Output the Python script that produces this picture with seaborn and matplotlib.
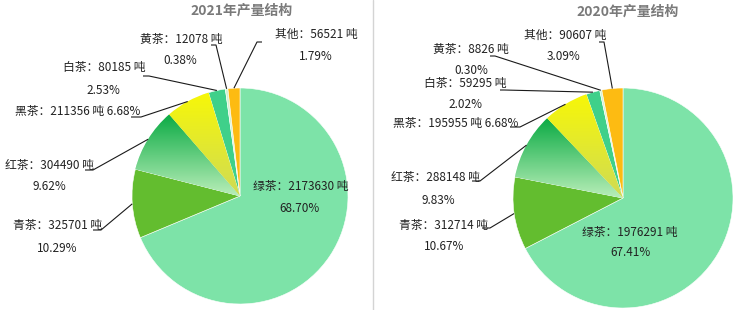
import numpy as np
import matplotlib
matplotlib.use('Agg')
import matplotlib.pyplot as plt
import seaborn as sns

# ---------------- data ----------------
categories = ['绿茶', '青茶', '红茶', '黑茶', '白茶', '黄茶', '其他']
values_2021 = [2173630, 325701, 304490, 211356, 80185, 12078, 56521]
pct_2021 = ['68.70%', '10.29%', '9.62%', '6.68%', '2.53%', '0.38%', '1.79%']
values_2020 = [1976291, 312714, 288148, 195955, 59295, 8826, 90607]
pct_2020 = ['67.41%', '10.67%', '9.83%', '6.68%', '2.02%', '0.30%', '3.09%']
titles = ['2021年产量结构', '2020年产量结构']
unit = '吨'

# ---------------- style ----------------
sns.set_theme(style='white')
plt.rcParams['font.family'] = ['Noto Sans CJK SC', 'DejaVu Sans']

colors = ['#7de3a8', '#63bd2f', '#3cc46c', '#ecef2a', '#3fd08a', '#d2f2d2', '#fdbb12']
gradients = {2: ['#0cab45', '#b8eeb8'], 3: ['#f7f708', '#cfdb55']}

W, H = 737, 310
fig = plt.figure(figsize=(W / 100, H / 100), dpi=100)
ax = fig.add_axes([0, 0, 1, 1])


def Y(y):
    return H - y


# layout in pixel coordinates (x, y from top)
layouts = [
    dict(center=(240, 196), r=108, title=(242, 11),
         labels={0: [(301, 186), (300, 208)], 1: [(58, 226), (57, 248)],
                 2: [(49, 165), (49, 187)], 3: [(78, 112)],
                 4: [(104, 68), (103, 90)], 5: [(181, 39), (180, 61)],
                 6: [(316, 34), (316, 57)]},
         elbows={1: ((101, 230), -8), 2: ((93, 170), -8), 3: ((141, 117), -10),
                 4: ((149, 76), -6), 5: ((216, 45), -5), 6: ((257, 42), 5)}),
    dict(center=(623, 198), r=110, title=(628, 12),
         labels={0: [(630, 232), (631, 253)], 1: [(444, 225), (444, 247)],
                 2: [(435, 177), (438, 200)], 3: [(456, 123)],
                 4: [(465, 83), (465, 104)], 5: [(471, 49), (471, 70)],
                 6: [(565, 35), (564, 57)]},
         elbows={1: ((490, 228), -8), 2: ((480, 181), -8), 3: ((520, 127), -10),
                 4: ((504, 90), -4), 5: ((495, 56), -5), 6: ((604, 42), -5)}),
]

datasets = [(values_2021, pct_2021), (values_2020, pct_2020)]
FS = 8.5

for (vals, pcts), lay, title in zip(datasets, layouts, titles):
    cx, cy = lay['center']
    r = lay['r']
    wedges, _ = ax.pie(vals, colors=colors, startangle=90, counterclock=False,
                       center=(cx, Y(cy)), radius=r,
                       wedgeprops=dict(edgecolor='white', linewidth=0.4))
    # gradient fills
    for idx, (c_top, c_bot) in gradients.items():
        w = wedges[idx]
        bb = w.get_path().get_extents()
        pal = sns.blend_palette([c_bot, c_top], 64)
        img = np.array(pal).reshape(64, 1, 3)
        im = ax.imshow(img, extent=[bb.x0, bb.x1, bb.y0, bb.y1], origin='lower',
                       aspect='auto', zorder=w.get_zorder() + 0.05,
                       interpolation='bilinear')
        im.set_clip_path(w)
    # labels
    for i, cat in enumerate(categories):
        pos = lay['labels'][i]
        if len(pos) == 1:
            ax.text(pos[0][0], Y(pos[0][1]), f'{cat}：{vals[i]} {unit} {pcts[i]}',
                    ha='center', va='center', fontsize=FS, color='#222222', zorder=5)
        else:
            ax.text(pos[0][0], Y(pos[0][1]), f'{cat}：{vals[i]} {unit}',
                    ha='center', va='center', fontsize=FS, color='#222222', zorder=5)
            ax.text(pos[1][0], Y(pos[1][1]), pcts[i],
                    ha='center', va='center', fontsize=FS, color='#222222', zorder=5)
    # leader lines
    for i, ((ex, ey), tail) in lay['elbows'].items():
        w = wedges[i]
        mid = np.deg2rad((w.theta1 + w.theta2) / 2)
        sx = cx + r * np.cos(mid)
        sy = Y(cy) + r * np.sin(mid)
        ax.plot([sx, ex, ex + tail], [sy, Y(ey), Y(ey)], color='#1a1a1a',
                lw=0.8, zorder=4, solid_capstyle='butt')
    # title
    ax.text(lay['title'][0], Y(lay['title'][1]), title, ha='center', va='center',
            fontsize=10, fontweight='bold', color='#7a7a7a')

# divider
ax.plot([373, 373], [0, H], color='#d4d4d4', lw=1)

ax.set_xlim(0, W)
ax.set_ylim(0, H)
ax.set_aspect('auto')
ax.axis('off')

fig.savefig('out.png', dpi=100)
